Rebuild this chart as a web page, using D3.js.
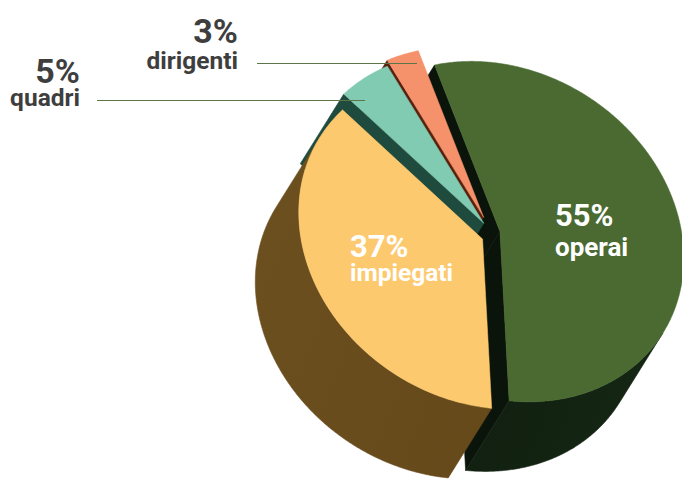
<!DOCTYPE html>
<html>
<head>
<meta charset="utf-8">
<script src="https://cdn.jsdelivr.net/npm/d3@7"></script>
<style>
  html, body { margin: 0; padding: 0; background: #ffffff; }
  svg { display: block; }
  text { font-family: Roboto, "Noto Sans", sans-serif; font-weight: 700; }
</style>
</head>
<body>
<script>
// Workforce composition by role
const categories = ["operai", "dirigenti", "quadri", "impiegati"];
const shares = [55, 3, 5, 37];
const shareLabels = ["55%", "3%", "5%", "37%"];

const W = 682, H = 482;
const svg = d3.select("body").append("svg")
  .attr("width", W).attr("height", H);

// ---- 3D pie geometry (oblique projection of a cylinder) ----
const center = [491, 232];          // pie axis on the top plane
const axisA = [162.8, 101.7];       // pie-plane direction θ = 0
const axisB = [85.3, -136.5];       // pie-plane direction θ = 90°
const depth = [-43.5, 69.6];        // extrusion of the cylinder body
const startDeg = -59.5;
// r: radial pull-out of each slice, z: drop along the cylinder axis
const explode = {
  operai:    { r: 0.05, z: 0 },
  dirigenti: { r: 0.09, z: 0 },
  quadri:    { r: 0.06, z: 0 },
  impiegati: { r: 0.03, z: 0.08 }
};

const palette = {
  operai:    { top: "#4a6a31", side: ["#0a1409", "#162815"], cut: "#0b140a" },
  dirigenti: { top: "#f5916b", side: ["#7a3a1f", "#7a3a1f"], cut: "#5a200e" },
  quadri:    { top: "#80cbb1", side: ["#24594a", "#24594a"], cut: "#1e4b3d" },
  impiegati: { top: "#fdc96f", side: ["#6c4f1f", "#624617"], cut: "#5a4016" }
};

const data = categories.map((c, i) => ({ key: c, v: shares[i], label: shareLabels[i] }));
const start = startDeg * Math.PI / 180;
const arcs = d3.pie().value(d => d.v).sort(null)
  .startAngle(start).endAngle(start + 2 * Math.PI)(data);

function proj(theta, r, off, z) {
  return [
    center[0] + off[0] + r * (Math.cos(theta) * axisA[0] + Math.sin(theta) * axisB[0]) + z * depth[0],
    center[1] + off[1] + r * (Math.cos(theta) * axisA[1] + Math.sin(theta) * axisB[1]) + z * depth[1]
  ];
}
function arcPoints(a0, a1, off, z) {
  const n = Math.max(2, Math.ceil(Math.abs(a1 - a0) / (Math.PI / 360)));
  return d3.range(n + 1).map(i => proj(a0 + (a1 - a0) * i / n, 1, off, z));
}
const line = d3.line().curve(d3.curveLinearClosed);

// visible part of the outer wall: where the wall faces the viewer (sin θ < 0)
function visibleRanges(a0, a1) {
  const out = [];
  for (let k = -2; k <= 2; k++) {
    const lo = Math.PI + 2 * Math.PI * k, hi = 2 * Math.PI + 2 * Math.PI * k;
    const s = Math.max(a0, lo), e = Math.min(a1, hi);
    if (e > s) out.push([s, e]);
  }
  return out;
}

const defs = svg.append("defs");
categories.forEach(c => {
  const g = defs.append("linearGradient").attr("id", "side-" + c)
    .attr("gradientUnits", "userSpaceOnUse")
    .attr("x1", 250).attr("y1", 250).attr("x2", 682).attr("y2", 420);
  g.append("stop").attr("offset", "0%").attr("stop-color", palette[c].side[0]);
  g.append("stop").attr("offset", "100%").attr("stop-color", palette[c].side[1]);
});

const slices = arcs.map(a => {
  const mid = (a.startAngle + a.endAngle) / 2;
  const ex = explode[a.data.key];
  const off = [
    ex.r * (Math.cos(mid) * axisA[0] + Math.sin(mid) * axisB[0]) + ex.z * depth[0],
    ex.r * (Math.cos(mid) * axisA[1] + Math.sin(mid) * axisB[1]) + ex.z * depth[1]
  ];
  return { a, mid, off };
});

// back-to-front: slices pushed toward the viewer (negative sin) are drawn last
slices.sort((p, q) => Math.sin(q.mid) - Math.sin(p.mid));

const pieG = svg.append("g");
slices.forEach(({ a, off }) => {
  const key = a.data.key, col = palette[key];
  const g = pieG.append("g").attr("class", "slice " + key);
  const apexTop = proj(0, 0, off, 0), apexBot = proj(0, 0, off, 1);

  // cut faces along the two radii
  if (Math.cos(a.startAngle) > 0) {
    const pts = [apexTop, proj(a.startAngle, 1, off, 0), proj(a.startAngle, 1, off, 1), apexBot];
    g.append("path").attr("d", line(pts)).attr("fill", col.cut)
      .attr("stroke", col.cut).attr("stroke-width", 0.6).attr("stroke-linejoin", "round");
  }
  if (Math.cos(a.endAngle) < 0) {
    const pts = [apexTop, proj(a.endAngle, 1, off, 0), proj(a.endAngle, 1, off, 1), apexBot];
    g.append("path").attr("d", line(pts)).attr("fill", col.cut)
      .attr("stroke", col.cut).attr("stroke-width", 0.6).attr("stroke-linejoin", "round");
  }

  // outer wall
  visibleRanges(a.startAngle, a.endAngle).forEach(([s, e]) => {
    const pts = arcPoints(s, e, off, 0).concat(arcPoints(s, e, off, 1).reverse());
    g.append("path").attr("d", line(pts)).attr("fill", "url(#side-" + key + ")")
      .attr("stroke", "url(#side-" + key + ")").attr("stroke-width", 0.6).attr("stroke-linejoin", "round");
  });

  // top face
  const topPts = [apexTop].concat(arcPoints(a.startAngle, a.endAngle, off, 0));
  g.append("path").attr("d", line(topPts)).attr("fill", col.top)
    .attr("stroke", col.top).attr("stroke-width", 0.5).attr("stroke-linejoin", "round");
});

// ---- labels ----
const byKey = Object.fromEntries(data.map(d => [d.key, d]));

// labels printed on the slices
const innerLayout = {
  operai:    { x: 555, y1: 226, y2: 256, s1: 31, s2: 26 },
  impiegati: { x: 350, y1: 257, y2: 281, s1: 31, s2: 24.5 }
};
Object.entries(innerLayout).forEach(([k, p]) => {
  svg.append("text").attr("x", p.x).attr("y", p.y1).attr("fill", "#ffffff")
    .attr("font-size", p.s1).text(byKey[k].label);
  svg.append("text").attr("x", p.x).attr("y", p.y2).attr("fill", "#ffffff")
    .attr("font-size", p.s2).text(k);
});

// labels outside the pie, with leader lines
const outerLayout = {
  dirigenti: { x: 238, y1: 43, y2: 69, lx1: 257, lx2: 417, ly: 63.5 },
  quadri:    { x: 80,  y1: 83, y2: 106, lx1: 97, lx2: 365, ly: 100.5 }
};
Object.entries(outerLayout).forEach(([k, p]) => {
  svg.append("line").attr("x1", p.lx1).attr("x2", p.lx2)
    .attr("y1", p.ly).attr("y2", p.ly)
    .attr("stroke", "#5b7548").attr("stroke-width", 1.2);
  svg.append("text").attr("x", p.x).attr("y", p.y1).attr("text-anchor", "end")
    .attr("fill", "#3e3e3e").attr("font-size", 34).text(byKey[k].label);
  svg.append("text").attr("x", p.x).attr("y", p.y2).attr("text-anchor", "end")
    .attr("fill", "#3e3e3e").attr("font-size", 24.5).text(k);
});
</script>
</body>
</html>
